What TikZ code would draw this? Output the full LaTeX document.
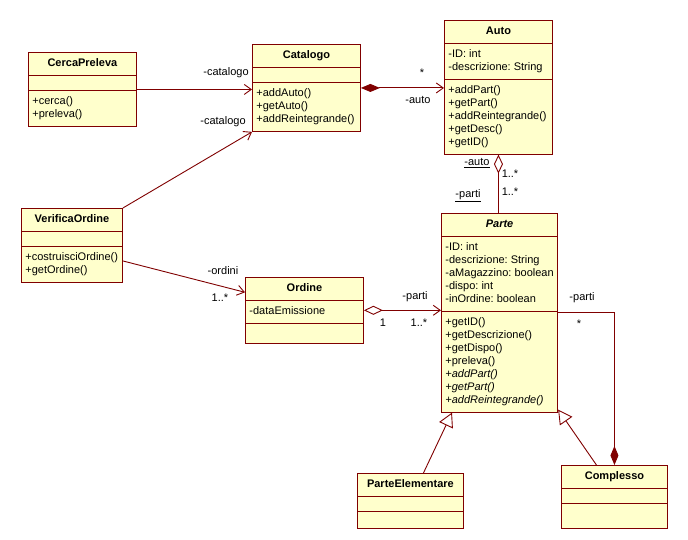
\documentclass[tikz,border=0pt]{standalone}
\usepackage{fontspec}
\setmainfont{Liberation Sans}
\usepackage{tikz}
\usetikzlibrary{arrows.meta,shapes.multipart,calc}
\definecolor{umlred}{RGB}{128,0,0}
\definecolor{umlfill}{RGB}{255,255,204}
\frenchspacing

\begin{document}
\begin{tikzpicture}[x=1pt,y=-1pt,line width=0.9pt,font=\fontsize{11}{13}\selectfont,
  classe/.style={rectangle split,rectangle split parts=3,draw=umlred,fill=umlfill,anchor=north west,
    align=left,inner xsep=4pt,inner ysep=4.5pt,rectangle split part align={center,left,left},
    rectangle split empty part height=0pt,rectangle split empty part depth=0pt},
  lbl/.style={inner sep=0pt},
  assoc/.style={draw=umlred,-{Straight Barb[length=7pt,width=10pt]}},
  aggr/.style={draw=umlred,{Diamond[open,length=19pt,width=9pt]}-},
  aggrnav/.style={draw=umlred,{Diamond[open,length=19pt,width=9pt]}-{Straight Barb[length=7pt,width=10pt]}},
  comp/.style={draw=umlred,{Diamond[length=19pt,width=8pt]}-},
  compnav/.style={draw=umlred,{Diamond[length=19pt,width=8pt]}-{Straight Barb[length=7pt,width=10pt]}},
  gen/.style={draw=umlred,-{Triangle[open,length=14pt,width=15pt]}}]
\fill[white] (0,0) rectangle (688,540);
\useasboundingbox (0,0) rectangle (688,540);

\node[classe,minimum width=108pt] (cerca) at (28,52) {\strut\textbf{CercaPreleva}
  \nodepart{second}
  \nodepart{third}\strut+cerca()\\ \strut+preleva()};
\node[classe,minimum width=108pt] (catalogo) at (252,44) {\strut\textbf{Catalogo}
  \nodepart{second}
  \nodepart{third}\strut+addAuto()\\ \strut+getAuto()\\ \strut+addReintegrande()};
\node[classe,minimum width=108pt] (auto) at (444,20) {\strut\textbf{Auto}
  \nodepart{second}\strut-ID: int\\ \strut-descrizione: String
  \nodepart{third}\strut+addPart()\\ \strut+getPart()\\ \strut+addReintegrande()\\ \strut+getDesc()\\ \strut+getID()};
\node[classe,minimum width=101pt] (verifica) at (21,208) {\strut\textbf{VerificaOrdine}
  \nodepart{second}
  \nodepart{third}\strut+costruisciOrdine()\\ \strut+getOrdine()};
\node[classe,minimum width=118pt] (ordine) at (245,277) {\strut\textbf{Ordine}
  \nodepart{second}\strut-dataEmissione
  \nodepart{third}\rule{0pt}{10pt}};
\node[classe,minimum width=116pt] (parte) at (441,213) {\strut\textbf{\textit{Parte}}
  \nodepart{second}\strut-ID: int\\ \strut-descrizione: String\\ \strut-aMagazzino: boolean\\ \strut-dispo: int\\ \strut-inOrdine: boolean
  \nodepart{third}\strut+getID()\\ \strut+getDescrizione()\\ \strut+getDispo()\\ \strut+preleva()\\
    \strut\textit{+addPart()}\\ \strut\textit{+getPart()}\\ \strut\textit{+addReintegrande()}};
\node[classe,minimum width=106pt] (parteel) at (357,473) {\strut\textbf{ParteElementare}
  \nodepart{second}
  \nodepart{third}\rule{0pt}{7pt}};
\node[classe,minimum width=106pt] (complesso) at (561,465) {\strut\textbf{Complesso}
  \nodepart{second}
  \nodepart{third}\rule{0pt}{15pt}};

\draw[assoc] (cerca.east) -- (cerca.east -| catalogo.west);
\draw[assoc] (verifica.north east) -- (catalogo.south west);
\draw[compnav] (catalogo.east) -- (catalogo.east -| auto.west);
\draw[aggr] (auto.south) -- (auto.south |- parte.north);
\draw[assoc] ($(verifica.east)+(0,15.5)$) -- ($(ordine.west)+(0,-18)$);
\draw[aggrnav] (ordine.east) -- (ordine.east -| parte.west);
\draw[comp] (complesso.north) |- (parte.east);
\draw[gen] ($(parteel.north)+(13,0)$) -- ($(parte.south west)+(11,0)$);
\draw[gen] ($(complesso.north)+(-18,0)$) -- ($(parte.south east)+(0,-3)$);

\node[lbl] (lcat1) at (226,73) {-catalogo};
\node[lbl] (lcat2) at (223,122) {-catalogo};
\node[lbl] (lmolt1) at (422,73) {*};
\node[lbl] (lauto1) at (418,100) {-auto};
\node[lbl] (lauto2) at (477,163) {\underline{-auto}};
\node[lbl] (lmolt2) at (510,174) {1..*};
\node[lbl] (lmolt3) at (510,192) {1..*};
\node[lbl] (lparti1) at (468,196) {\underline{-parti}};
\node[lbl] (lordini) at (223,271) {-ordini};
\node[lbl] (lmolt4) at (220,298) {1..*};
\node[lbl] (lparti2) at (415,297) {-parti};
\node[lbl] (luno) at (383,323) {1};
\node[lbl] (lmolt5) at (419,323) {1..*};
\node[lbl] (lparti3) at (582,298) {-parti};
\node[lbl] (lmolt6) at (579,324) {*};
\end{tikzpicture}
\end{document}
